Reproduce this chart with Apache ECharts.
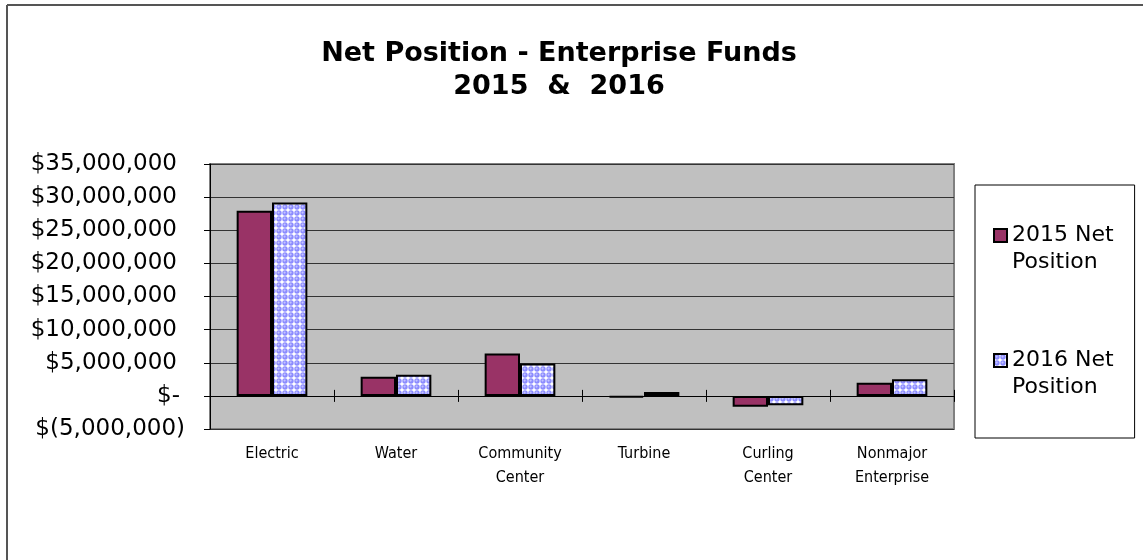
<!DOCTYPE html>
<html>
<head>
<meta charset="utf-8">
<script src="https://cdn.jsdelivr.net/npm/echarts@6/dist/echarts.min.js"></script>
<style>
html,body{margin:0;padding:0;background:#fff;}
#chart{width:1143px;height:560px;}
</style>
</head>
<body>
<div id="chart"></div>
<script>
const categories = ['Electric', 'Water', 'Community\nCenter', 'Turbine', 'Curling\nCenter', 'Nonmajor\nEnterprise'];
const seriesNames = ['2015 Net Position', '2016 Net Position'];
const net2015 = [27950000, 2900000, 6400000, -250000, -1650000, 2000000];
const net2016 = [29200000, 3200000, 4900000, 600000, -1400000, 2500000];
const yMin = -5000000;
const yMax = 35000000;
const yInterval = 5000000;
const titleLines = ['Net Position - Enterprise Funds', '2015  &  2016'];

// dotted pattern for 2016 series
function makePattern() {
  const c = document.createElement('canvas');
  c.width = 6; c.height = 6;
  const ctx = c.getContext('2d');
  ctx.fillStyle = '#ffffff';
  ctx.fillRect(0, 0, 6, 6);
  ctx.fillStyle = '#8c8cff';
  ctx.beginPath(); ctx.arc(3, 3, 2.7, 0, Math.PI * 2); ctx.fill();
  ctx.fillStyle = '#c4c4ff';
  ctx.beginPath(); ctx.arc(2.6, 2.6, 1.1, 0, Math.PI * 2); ctx.fill();
  return c;
}
const pattern = { image: makePattern(), repeat: 'repeat' };

function fmtY(v) {
  if (v === 0) return '{z|$-}';
  const s = Math.abs(v).toLocaleString('en-US');
  return v < 0 ? '{n|$(' + s + ')}' : '{p|$' + s + '}';
}

const yFont = { fontFamily: 'DejaVu Sans', fontSize: 23, color: '#000' };
const chart = echarts.init(document.getElementById('chart'), null, { renderer: 'canvas' });
chart.setOption({
  animation: false,
  backgroundColor: '#ffffff',
  title: {
    text: titleLines.join('\n'),
    left: 554,
    top: 32,
    textAlign: 'center',
    textStyle: { fontFamily: 'DejaVu Sans', fontWeight: 'bold', fontSize: 27, lineHeight: 33, color: '#000' }
  },
  graphic: [
    { type: 'line', shape: { x1: 7, y1: 5, x2: 1143, y2: 5 }, style: { stroke: '#555', lineWidth: 2 } },
    { type: 'line', shape: { x1: 7, y1: 5, x2: 7, y2: 560 }, style: { stroke: '#555', lineWidth: 2 } }
  ],
  legend: {
    orient: 'vertical',
    left: 975,
    top: 185,
    padding: [10, 21, 37, 18],
    itemWidth: 13,
    itemHeight: 13,
    itemGap: 44,
    icon: 'rect',
    borderColor: '#000',
    borderWidth: 1,
    backgroundColor: '#fff',
    formatter: function (name) {
      const parts = name.split(' ');
      return '\u200b\n' + parts[0] + ' ' + parts[1] + '\n' + parts.slice(2).join(' ');
    },
    textStyle: { fontFamily: 'DejaVu Sans', fontSize: 22, lineHeight: 27, color: '#000' },
    data: seriesNames
  },
  grid: {
    left: 210, right: 189, top: 164, bottom: 131,
    show: true,
    backgroundColor: '#c0c0c0',
    borderColor: '#808080',
    borderWidth: 2
  },
  xAxis: [
    {
      type: 'category', data: categories, position: 'bottom',
      axisLine: { show: false, onZero: false },
      axisTick: { show: false },
      axisLabel: { margin: 13, fontFamily: "'Liberation Sans Narrow', 'DejaVu Sans Condensed', 'Liberation Sans', sans-serif", fontSize: 16, lineHeight: 24, color: '#000', interval: 0 }
    },
    {
      type: 'category', data: categories, position: 'bottom',
      axisLine: { show: true, onZero: true, onZeroAxisIndex: 0, lineStyle: { color: '#000', width: 1 } },
      axisTick: { show: true, length: 6, lineStyle: { color: '#000' } },
      axisLabel: { show: false }
    },
    {
      type: 'category', data: categories, position: 'bottom',
      axisLine: { show: false, onZero: true, onZeroAxisIndex: 0 },
      axisTick: { show: true, inside: true, length: 6, lineStyle: { color: '#000' } },
      axisLabel: { show: false }
    }
  ],
  yAxis: {
    type: 'value', min: yMin, max: yMax, interval: yInterval,
    axisLine: { show: true, lineStyle: { color: '#000', width: 1 } },
    axisTick: { show: true, length: 6, lineStyle: { color: '#000' } },
    splitLine: { show: true, lineStyle: { color: '#333', width: 1 } },
    axisLabel: {
      margin: 25, formatter: fmtY, ...yFont,
      rich: {
        p: { ...yFont, padding: [0, 8, 0, 0] },
        z: { ...yFont, padding: [0, 5, 0, 0] },
        n: { ...yFont }
      }
    }
  },
  series: [
    {
      name: seriesNames[0], type: 'bar', data: net2015, xAxisIndex: 0,
      barGap: '0%', barCategoryGap: '43%',
      itemStyle: { color: '#993366', borderColor: '#000', borderWidth: 2 }
    },
    {
      name: seriesNames[1], type: 'bar', data: net2016, xAxisIndex: 0,
      barGap: '0%', barCategoryGap: '43%',
      itemStyle: { color: pattern, borderColor: '#000', borderWidth: 2 }
    }
  ]
});
</script>
</body>
</html>
